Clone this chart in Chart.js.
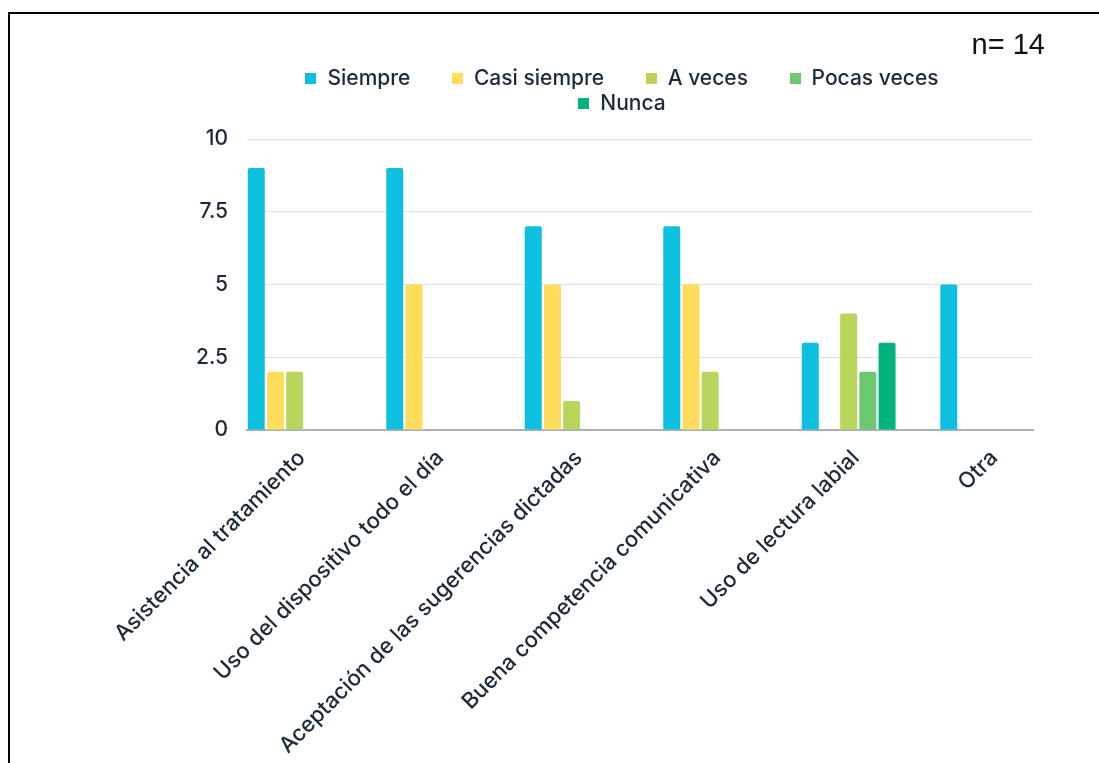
<!DOCTYPE html>
<html>
<head>
<meta charset="utf-8">
<script src="https://cdn.jsdelivr.net/npm/chart.js@4.4.1/dist/chart.umd.min.js"></script>
<style>
  html, body { margin: 0; padding: 0; background: #fff; overflow: hidden; }
  #wrap { position: relative; width: 1099px; height: 763px; overflow: hidden; }
  #frame { position: absolute; left: 8px; top: 12px; width: 1300px; height: 900px;
           border-left: 2px solid #000; border-top: 2px solid #000; }
  #box { position: absolute; left: 0; top: 0; width: 1099px; height: 763px; }
  #n { position: absolute; right: 54px; top: 28px; font: 29px "Liberation Sans", Arial, sans-serif; color: #111; }
  #legend { position: absolute; left: 272px; top: 65px; width: 700px; text-align: center;
            font: 500 21px Inter, sans-serif; color: #1c2a39; line-height: 25px; }
  #legend span.item { display: inline-block; margin: 0 18px; white-space: nowrap; }
  #legend i { display: inline-block; width: 11px; height: 11px; margin-right: 11px; vertical-align: 1px; }
</style>
</head>
<body>
<div id="wrap">
  <div id="frame"></div>
  <div id="box"><canvas id="chart"></canvas></div>
  <div id="n">n= 14</div>
  <div id="legend"></div>
</div>
<script>
  // ====== data ======
  const categories = [
    "Asistencia al tratamiento",
    "Uso del dispositivo todo el día",
    "Aceptación de las sugerencias dictadas",
    "Buena competencia comunicativa",
    "Uso de lectura labial",
    "Otra",
  ];
  const seriesNames = ["Siempre", "Casi siempre", "A veces", "Pocas veces", "Nunca"];
  const siempre = [9, 9, 7, 7, 3, 5];
  const casiSiempre = [2, 5, 5, 5, 0, 0];
  const aVeces = [2, 0, 1, 2, 4, 0];
  const pocasVeces = [0, 0, 0, 0, 2, 0];
  const nunca = [0, 0, 0, 0, 3, 0];
  const yTicks = [0, 2.5, 5, 7.5, 10];

  const colors = ["#0DC0E0", "#FFDC5A", "#B7D65B", "#6DC86F", "#02B37E"];
  const series = [siempre, casiSiempre, aVeces, pocasVeces, nunca];

  const textColor = "#1c2a39";

  const chart = new Chart(document.getElementById("chart"), {
    type: "bar",
    data: {
      datasets: series.map((values, s) => ({
        label: seriesNames[s],
        data: values.map((v, i) => ({ x: i, y: v })),
        backgroundColor: colors[s],
        borderRadius: 2,
        categoryPercentage: 0.693,
        barPercentage: 0.885,
      })),
    },
    options: {
      animation: false,
      responsive: true,
      maintainAspectRatio: false,
      layout: {
        padding: { top: 139, left: 197, right: 66, bottom: 0 },
      },
      scales: {
        x: {
          type: "linear",
          bounds: "data",
          offset: false,
          min: -0.344,
          max: 5.331,
          grid: { display: false, offset: false },
          border: { display: true, color: "#aab2bb", width: 2 },
          afterBuildTicks: function (axis) {
            axis.ticks = categories.map((c, i) => ({ value: i }));
          },
          afterFit: function (axis) {
            axis.height = 333;
          },
          ticks: {
            autoSkip: false,
            maxRotation: 45,
            minRotation: 45,
            padding: 7,
            labelOffset: 7,
            color: textColor,
            font: { family: "Inter", size: 22, weight: 500 },
            callback: function (value) {
              return categories[value];
            },
          },
        },
        y: {
          min: 0,
          max: 10,
          afterFit: function (axis) {
            axis.width = 50;
          },
          afterBuildTicks: function (axis) {
            axis.ticks = yTicks.map((v) => ({ value: v }));
          },
          grid: { color: "#dcdfe3", drawTicks: false },
          border: { display: false },
          ticks: {
            padding: 19,
            color: textColor,
            font: { family: "Inter", size: 21, weight: 500 },
          },
        },
      },
      plugins: {
        legend: { display: false },
        tooltip: { enabled: false },
      },
    },
  });

  // html legend from the datasets
  const legend = document.getElementById("legend");
  chart.data.datasets.forEach((ds) => {
    const item = document.createElement("span");
    item.className = "item";
    const sw = document.createElement("i");
    sw.style.background = ds.backgroundColor;
    item.appendChild(sw);
    item.appendChild(document.createTextNode(ds.label));
    legend.appendChild(item);
    legend.appendChild(document.createTextNode(" "));
  });
</script>
</body>
</html>
